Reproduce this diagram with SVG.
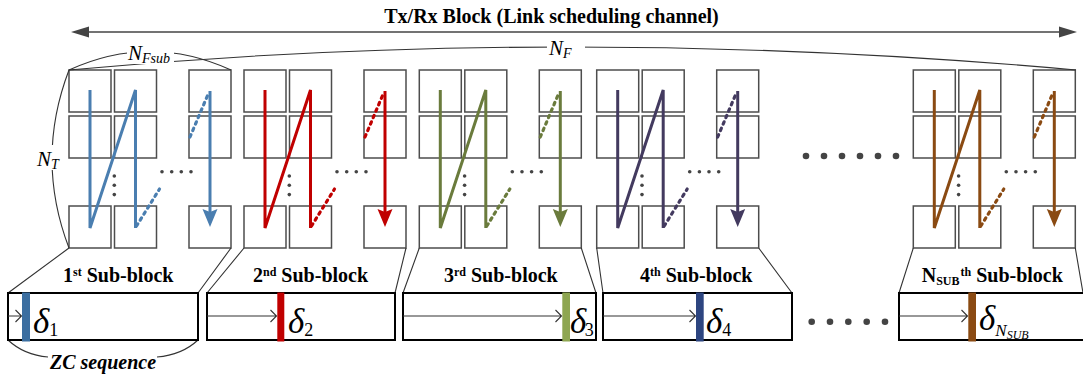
<svg xmlns="http://www.w3.org/2000/svg" xmlns:xlink="http://www.w3.org/1999/xlink" width="1083" height="378" viewBox="0 0 1083 378">
<style>
.cell{fill:#fff;stroke:#4d4d4d;stroke-width:1.5}
.dot{fill:#444}
.solid{fill:none;stroke:currentColor;stroke-width:3;stroke-linejoin:miter}
.dash{fill:none;stroke:currentColor;stroke-width:3.2;stroke-dasharray:2.5 4.5;stroke-linecap:round}
.thin{fill:none;stroke:#333;stroke-width:1.1}
.seq{fill:#fff;stroke:#000;stroke-width:2}
.lbl{font-family:"Liberation Serif","Times New Roman",serif;font-weight:bold;font-size:20px;fill:#000}
.math{font-family:"Liberation Serif","Times New Roman",serif;font-style:italic;fill:#000}
.num{font-style:normal}
.bg{fill:#fff}
</style>
<defs>
<g id="cells">
<rect class="cell" x="0" y="70" width="42" height="42"/>
<rect class="cell" x="45.5" y="70" width="42" height="42"/>
<rect class="cell" x="120" y="70" width="42" height="42"/>
<rect class="cell" x="0" y="116" width="42" height="42"/>
<rect class="cell" x="45.5" y="116" width="42" height="42"/>
<rect class="cell" x="120" y="116" width="42" height="42"/>
<rect class="cell" x="0" y="206" width="42" height="42"/>
<rect class="cell" x="45.5" y="206" width="42" height="42"/>
<rect class="cell" x="120" y="206" width="42" height="42"/>
<circle class="dot" cx="45.3" cy="176" r="1.8"/>
<circle class="dot" cx="45.3" cy="185.3" r="1.8"/>
<circle class="dot" cx="45.3" cy="194.6" r="1.8"/>
<circle class="dot" cx="93" cy="171.7" r="1.8"/>
<circle class="dot" cx="102.7" cy="171.7" r="1.8"/>
<circle class="dot" cx="112.3" cy="171.7" r="1.8"/>
<circle class="dot" cx="122" cy="171.7" r="1.8"/>
</g>
<g id="traj">
<path class="solid" d="M21,90 V228 L66.5,90 V228"/>
<path class="dash" d="M67.5,226 L90.5,189"/>
<path class="dash" d="M121,137 L140,92"/>
<path class="solid" d="M141,91 V212"/>
<polygon points="133.5,209 141,227 148.5,209 141,212" fill="currentColor"/>
</g>
</defs>

<g id="title">
<text class="lbl" x="551.5" y="22.5" text-anchor="middle">Tx/Rx Block (Link scheduling channel)</text>
</g>

<g id="subblock-1" transform="translate(69,0)" style="color:#4a7eb0"><use xlink:href="#cells"/><use xlink:href="#traj"/></g>
<g id="subblock-2" transform="translate(244,0)" style="color:#c00000"><use xlink:href="#cells"/><use xlink:href="#traj"/></g>
<g id="subblock-3" transform="translate(419.3,0)" style="color:#6a7b3c"><use xlink:href="#cells"/><use xlink:href="#traj"/></g>
<g id="subblock-4" transform="translate(596.7,0)" style="color:#433a5f"><use xlink:href="#cells"/><use xlink:href="#traj"/></g>
<g id="subblock-N" transform="translate(913.3,0)" style="color:#8a4a12"><use xlink:href="#cells"/><use xlink:href="#traj"/></g>

<g id="ellipsis-top">
<circle class="dot" cx="806" cy="156" r="3.3"/>
<circle class="dot" cx="824" cy="156" r="3.3"/>
<circle class="dot" cx="842" cy="156" r="3.3"/>
<circle class="dot" cx="860" cy="156" r="3.3"/>
<circle class="dot" cx="878" cy="156" r="3.3"/>
<circle class="dot" cx="896" cy="156" r="3.3"/>
</g>

<g id="connectors">
<line x1="88" y1="32" x2="1060" y2="32" stroke="#444" stroke-width="1.5"/>
<polygon points="71,32 89,26.5 89,37.5" fill="#444"/>
<polygon points="1077,32 1059,26.5 1059,37.5" fill="#444"/>
<path class="thin" d="M69,70 Q565,24 1076,70"/>
<path class="thin" d="M69,70 Q150,33 231,70"/>
<path class="thin" d="M69,70 Q35,159 69,248"/>
<path class="thin" d="M69,248 L8,293 M231,248 L198,293"/>
<path class="thin" d="M244,248 L207,293 M406,248 L395,293"/>
<path class="thin" d="M419.3,248 L403,293 M581.3,248 L596,293"/>
<path class="thin" d="M596.7,248 L603,293 M758.7,248 L792,293"/>
<path class="thin" d="M913.3,248 L899,293 M1075.3,248 L1083,293"/>
<path class="thin" d="M8,340 Q24,355 48,357 M157,357 Q182,355 198,340"/>
</g>

<g id="label-NF">
<rect class="bg" x="547" y="36" width="38" height="22"/>
<text class="math" x="549" y="55" font-size="21">N<tspan font-size="14" dy="3">F</tspan></text>
</g>
<g id="label-NFsub">
<rect class="bg" x="127" y="42" width="47" height="22"/>
<text class="math" x="128" y="60" font-size="21">N<tspan font-size="14" dy="3">Fsub</tspan></text>
</g>
<g id="label-NT">
<rect class="bg" x="36" y="145" width="28" height="25"/>
<text class="math" x="37" y="166" font-size="21">N<tspan font-size="14" dy="3">T</tspan></text>
</g>

<g id="sublabels">
<text class="lbl" x="63" y="281.7">1<tspan font-size="12" dy="-6">st</tspan><tspan dy="6"> Sub-block</tspan></text>
<text class="lbl" x="253" y="281.7">2<tspan font-size="12" dy="-6">nd</tspan><tspan dy="6"> Sub-block</tspan></text>
<text class="lbl" x="444" y="281.7">3<tspan font-size="12" dy="-6">rd</tspan><tspan dy="6"> Sub-block</tspan></text>
<text class="lbl" x="640" y="281.7">4<tspan font-size="12" dy="-6">th</tspan><tspan dy="6"> Sub-block</tspan></text>
<text class="lbl" x="921.7" y="281.7">N<tspan font-size="12" dy="3">SUB</tspan><tspan font-size="12" dy="-9" dx="1">th</tspan><tspan dy="6"> Sub-block</tspan></text>
</g>

<g id="seq-1">
<rect class="seq" x="8" y="293" width="190" height="47"/>
<path class="thin" d="M8,316 H21 M15.5,310 L21.5,316 L15.5,322"/>
<rect x="22" y="292.5" width="8" height="49" fill="#3b6ea0"/>
<text class="math" x="33" y="333" font-size="35">δ<tspan class="num" font-size="18" dy="3">1</tspan></text>
</g>
<g id="seq-2">
<rect class="seq" x="207" y="293" width="188" height="47"/>
<path class="thin" d="M207,316 H276 M270.5,310 L276.5,316 L270.5,322"/>
<rect x="277.3" y="292.5" width="7" height="49" fill="#c00000"/>
<text class="math" x="288" y="333" font-size="35">δ<tspan class="num" font-size="18" dy="3">2</tspan></text>
</g>
<g id="seq-3">
<rect class="seq" x="403" y="293" width="193" height="47"/>
<path class="thin" d="M403,316 H561 M555.5,310 L561.5,316 L555.5,322"/>
<rect x="562.3" y="292.5" width="7.7" height="49" fill="#8ea651"/>
<text class="math" x="570" y="333" font-size="35">δ<tspan class="num" font-size="18" dy="3" dx="-1.5">3</tspan></text>
</g>
<g id="seq-4">
<rect class="seq" x="603" y="293" width="189" height="47"/>
<path class="thin" d="M603,316 H695 M689.5,310 L695.5,316 L689.5,322"/>
<rect x="696" y="292.5" width="7.7" height="49" fill="#2d4580"/>
<text class="math" x="706" y="333" font-size="35">δ<tspan class="num" font-size="18" dy="3">4</tspan></text>
</g>
<g id="ellipsis-bottom">
<circle class="dot" cx="811.7" cy="321.7" r="3.3"/>
<circle class="dot" cx="830" cy="321.7" r="3.3"/>
<circle class="dot" cx="848.3" cy="321.7" r="3.3"/>
<circle class="dot" cx="866.7" cy="321.7" r="3.3"/>
<circle class="dot" cx="885" cy="321.7" r="3.3"/>
</g>
<g id="seq-N">
<rect class="seq" x="899" y="293" width="190" height="47"/>
<path class="thin" d="M899,316 H967 M961.5,310 L967.5,316 L961.5,322"/>
<rect x="968.3" y="292.5" width="7.7" height="49" fill="#8a4a12"/>
<text class="math" x="979" y="330" font-size="35">δ<tspan font-size="17" dy="6">N</tspan><tspan font-size="12" dy="3">SUB</tspan></text>
</g>

<g id="label-ZC">
<text class="lbl" x="50" y="368.5" font-style="italic">ZC sequence</text>
</g>
</svg>
